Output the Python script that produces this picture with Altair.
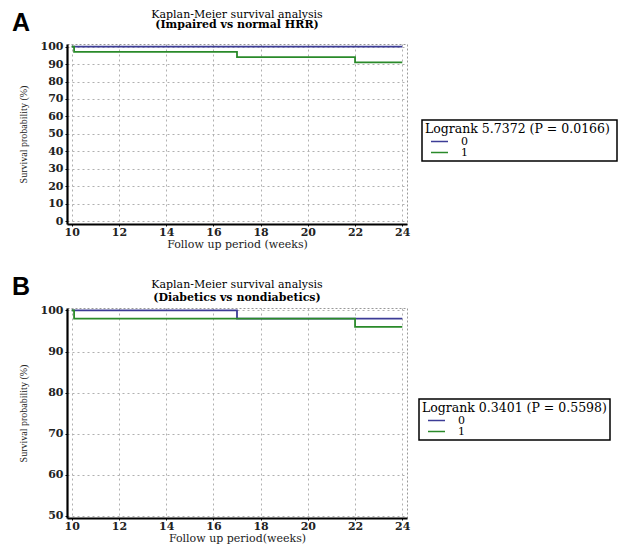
import altair as alt
import pandas as pd

# ---- data ----
a_time_0 = [10, 24]
a_surv_0 = [100, 100]
a_time_1 = [10, 10.1, 17, 22, 24]
a_surv_1 = [100, 97, 94, 91, 91]

b_time_0 = [10, 17, 24]
b_surv_0 = [100, 98, 98]
b_time_1 = [10, 10.1, 22, 24]
b_surv_1 = [100, 98, 96, 96]

x_ticks = [10, 12, 14, 16, 18, 20, 22, 24]
a_y_ticks = [0, 10, 20, 30, 40, 50, 60, 70, 80, 90, 100]
b_y_ticks = [50, 60, 70, 80, 90, 100]

groups = ["0", "1"]
colors = ["#3c3c96", "#2a8a2a"]

title_main = "Kaplan-Meier survival analysis"
a_subtitle = "(Impaired vs  normal HRR)"
b_subtitle = "(Diabetics vs  nondiabetics)"
a_logrank = "Logrank 5.7372  (P = 0.0166)"
b_logrank = "Logrank 0.3401 (P = 0.5598)"

SERIF = "DejaVu Serif"
W = 340


def frame(t0, s0, t1, s1):
    return pd.DataFrame({
        "time": list(t0) + list(t1),
        "surv": list(s0) + list(s1),
        "group": ["0"] * len(t0) + ["1"] * len(t1),
    })


def text_layer(txt, x, y, font, size, weight, align="center"):
    return alt.Chart(pd.DataFrame({"t": [txt]})).mark_text(
        font=font, fontSize=size, fontWeight=weight, align=align, baseline="middle",
        color="black").encode(text="t:N", x=alt.value(x), y=alt.value(y))


def panel(df, letter, subtitle, legend_title, ydom, yticks, height, xtitle, lx, ly,
          t1y, t2y, ly_letter):
    x = alt.X("time:Q", scale=alt.Scale(domain=[9.8, 24.2], nice=False, zero=False),
              axis=alt.Axis(values=x_ticks, title=xtitle, format="d"))
    y = alt.Y("surv:Q", scale=alt.Scale(domain=ydom, nice=False, zero=False),
              axis=alt.Axis(values=yticks, title="Survival probability (%)", format="d"))
    lines = alt.Chart(df).mark_line(interpolate="step-after", strokeWidth=1.8).encode(
        x=x, y=y,
        color=alt.Color("group:N", scale=alt.Scale(domain=groups, range=colors),
                        legend=alt.Legend(title=legend_title, orient="none",
                                          legendX=lx, legendY=ly)),
    )
    lab = text_layer(letter, -55, ly_letter, "Liberation Sans", 25, "bold", "left")
    t1 = text_layer(title_main, W / 2, t1y, SERIF, 11, "normal")
    t2 = text_layer(subtitle, W / 2, t2y, SERIF, 11, "bold")
    return alt.layer(lines, lab, t1, t2).properties(width=W, height=height)


pa = panel(frame(a_time_0, a_surv_0, a_time_1, a_surv_1), "A", a_subtitle, a_logrank,
           [-1.6, 101.5], a_y_ticks, 180, "Follow up period (weeks)", 355, 76,
           -29, -19, -21)
pb = panel(frame(b_time_0, b_surv_0, b_time_1, b_surv_1), "B", b_subtitle, b_logrank,
           [49.5, 100.6], b_y_ticks, 210, "Follow up period(weeks)", 352, 91,
           -23, -10, -21)

chart = alt.vconcat(pa, pb, spacing=24).resolve_scale(color="independent").resolve_legend(
    color="independent"
).properties(
    padding={"left": 3, "top": 0, "right": 0, "bottom": 2}
).configure_view(
    stroke="#999999", strokeDash=[2, 2], strokeWidth=1
).configure_axis(
    domainColor="black", domainWidth=2.2, tickColor="black", tickSize=2,
    gridColor="#b0b0b0", gridDash=[2, 3], gridWidth=1, labelPadding=0,
    labelFont=SERIF, labelFontSize=11, labelFontWeight="bold", labelColor="#222",
    titleFont=SERIF, titleFontSize=11, titleFontWeight="normal", titleColor="#222",
    titlePadding=1,
).configure_axisY(
    titleFont="Liberation Serif", titleFontSize=10, titlePadding=12, labelPadding=2
).configure_legend(
    strokeColor="black", strokeWidth=1.5, fillColor="white", padding=3, cornerRadius=0,
    titleFont=SERIF, titleFontSize=12.5, titleFontWeight="normal", titleColor="black",
    titleLimit=400, titlePadding=0, labelFont=SERIF, labelFontSize=11, labelColor="black",
    symbolType="M0,0H3.4", symbolSize=100, symbolStrokeWidth=1.5, rowPadding=0,
    labelOffset=24,
)

chart.save("out.html", embed_options={"renderer": "svg", "actions": False})
